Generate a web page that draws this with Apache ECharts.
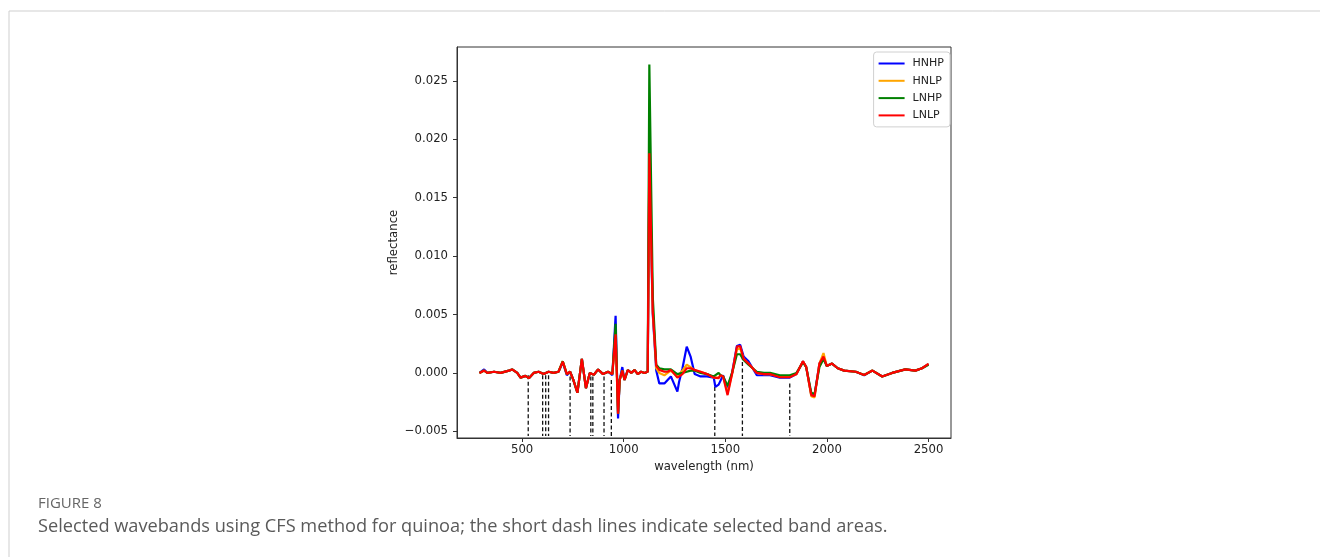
<!DOCTYPE html>
<html>
<head>
<meta charset="utf-8">
<script src="https://cdn.jsdelivr.net/npm/echarts@6/dist/echarts.min.js"></script>
<style>
html,body{margin:0;padding:0;background:#fff;}
#chart{width:1320px;height:557px;}
</style>
</head>
<body>
<div id="chart"></div>
<script>
// ---- data ----
const wavelengths = [290, 313, 329, 362, 394, 435, 451, 476, 492, 516, 533, 557, 581, 606, 630, 655, 679, 700, 720, 736, 752, 772, 794, 814, 833, 853, 874, 898, 923, 944, 960, 972, 980, 993, 1004, 1020, 1037, 1053, 1069, 1085, 1102, 1118, 1126, 1143, 1160, 1175, 1183, 1200, 1216, 1232, 1240, 1264, 1272, 1289, 1310, 1329, 1349, 1378, 1410, 1443, 1451, 1467, 1476, 1489, 1511, 1533, 1557, 1573, 1590, 1614, 1655, 1690, 1720, 1768, 1817, 1850, 1882, 1898, 1923, 1939, 1963, 1983, 1999, 2025, 2053, 2085, 2142, 2183, 2224, 2272, 2321, 2386, 2435, 2468, 2500];

const HNHP = [0, 0.0003, 0, 0.0001, 0, 0.0002, 0.0003, 0, -0.0004, -0.00025, -0.00045, 0, 0.0001, -0.0001, 0.0001, 0, 0.0001, 0.0009, -0.0002, 0.0001, -0.0006, -0.0017, 0.0012, -0.0013, 0, -0.00015, 0.0003, -0.0001, 0.0001, -0.0002, 0.0049, -0.0039, -0.0006, 0.0005, -0.0006, 0.00025, 0, 0.00025, -0.0001, 0.0001, 0, 0.0001, 0.0175, 0.0050, 0.0002, -0.0009, -0.0010, -0.0009, -0.0006, -0.0003, -0.0002, -0.0016, -0.0008, 0.0004, 0.00225, 0.0014, -0.0001, -0.0003, -0.0003, -0.0004, -0.0012, -0.0010, -0.0009, -0.0002, -0.00145, 0, 0.0023, 0.0024, 0.0014, 0.0010, -0.0002, -0.0002, -0.0002, -0.0004, -0.0004, -0.0001, 0.0010, 0.0005, -0.0019, -0.0019, 0.0008, 0.0014, 0.0006, 0.0008, 0.0004, 0.0002, 0.0001, -0.0002, 0.0002, -0.0003, 0, 0.0003, 0.0002, 0.0004, 0.00077];

const HNLP = [0, 0.0002, 0, 0.0001, 0, 0.0002, 0.0003, 0, -0.0004, -0.00025, -0.00045, 0, 0.0001, -0.0001, 0.0001, 0, 0.0001, 0.0010, -0.0001, 0.0001, -0.0006, -0.0017, 0.0012, -0.0013, 0, -0.00015, 0.0003, -0.0001, 0.0001, -0.0001, 0.0034, -0.0035, -0.0006, 0.0002, -0.0006, 0.00025, 0, 0.00025, -0.0001, 0.0001, 0, 0.0001, 0.0185, 0.0054, 0.0004, 0.0000, -0.0001, -0.0002, 0.0000, 0.0002, 0.0001, -0.0003, -0.0003, 0.0002, 0.0007, 0.0005, 0.0002, 0.0001, -0.0001, -0.0004, -0.0005, -0.0004, -0.0002, -0.0003, -0.0017, -0.0001, 0.0020, 0.0021, 0.0012, 0.0008, 0, -0.0001, -0.0001, -0.0003, -0.0003, -0.0001, 0.0010, 0.0005, -0.0020, -0.0021, 0.0008, 0.0017, 0.0006, 0.0008, 0.0004, 0.0002, 0.0001, -0.00017, 0.0002, -0.0003, 0, 0.0003, 0.0002, 0.0004, 0.00077];

const LNHP = [0, 0.0002, 0, 0.0001, 0, 0.0002, 0.0003, 0, -0.0004, -0.00025, -0.00045, 0, 0.0001, -0.0001, 0.0001, 0, 0.0001, 0.0010, -0.0001, 0.0001, -0.0006, -0.0017, 0.0012, -0.0013, 0, -0.00015, 0.0003, -0.0001, 0.0001, -0.0001, 0.0042, -0.0035, -0.0006, 0.0002, -0.0006, 0.00025, 0, 0.00025, -0.0001, 0.0001, 0, 0.0001, 0.0264, 0.0065, 0.0007, 0.0004, 0.0004, 0.0003, 0.0003, 0.0003, 0.0002, -0.0001, -0.0002, 0.0000, 0.0001, 0.0002, 0.0002, 0.0000, -0.0001, -0.0003, -0.0002, 0.0000, -0.0002, -0.0003, -0.0011, 0.0000, 0.0016, 0.0016, 0.0011, 0.0007, 0.0001, 0, 0, -0.0002, -0.0002, 0, 0.0009, 0.0005, -0.0017, -0.0018, 0.0005, 0.0012, 0.0006, 0.0008, 0.0004, 0.0002, 0.0001, -0.00017, 0.0002, -0.0003, 0, 0.0003, 0.0002, 0.0004, 0.0007];

const LNLP = [0, 0.0002, 0, 0.0001, 0, 0.0002, 0.0003, 0, -0.0004, -0.00025, -0.00045, 0, 0.0001, -0.0001, 0.0001, 0, 0.0001, 0.00097, -0.0001, 0.0001, -0.0006, -0.0017, 0.0012, -0.0013, 0, -0.00015, 0.0003, -0.0001, 0.0001, -0.0001, 0.0033, -0.0035, -0.0006, 0.0002, -0.0006, 0.00025, 0, 0.00025, -0.0001, 0.0001, 0, 0.0001, 0.0188, 0.0052, 0.0006, 0.00026, 0.0002, 0.0001, 0.0001, 0.00026, 0.0001, -0.0004, -0.00054, -0.0001, 0.0004, 0.0004, 0.00026, 0.0001, -0.0001, -0.0004, -0.0005, -0.00045, -0.0002, -0.0003, -0.0019, -0.0001, 0.00225, 0.0023, 0.0012, 0.0008, 0, -0.0001, -0.0001, -0.00037, -0.00037, -0.0001, 0.0010, 0.0005, -0.0019, -0.0020, 0.0008, 0.0014, 0.0006, 0.0008, 0.0004, 0.0002, 0.0001, -0.00017, 0.0002, -0.0003, 0, 0.0003, 0.0002, 0.0004, 0.00077];

// selected band positions (short dash lines): wavelength, top value
const bandWavelengths = [530, 601, 616, 630, 736, 838, 848, 903, 939, 1448, 1584, 1817];
const bandTops = [-0.0002, -0.0002, -0.0002, -0.0002, -0.0003, -0.0003, -0.0003, -0.0003, -0.0006, -0.0012, 0.0015, -0.0009];
const bandBottom = -0.0054;

const xTicks = [500, 1000, 1500, 2000, 2500];
const yTicks = [-0.005, 0.000, 0.005, 0.010, 0.015, 0.020, 0.025];

const seriesNames = ['HNHP', 'HNLP', 'LNHP', 'LNLP'];
const seriesValues = [HNHP, HNLP, LNHP, LNLP];
const seriesColors = ['#0000ff', '#ffa500', '#008000', '#ff0000'];

// ---- chart ----
const chart = echarts.init(document.getElementById('chart'), null, {renderer: 'canvas'});
const font = 'DejaVu Sans';

const series = [];
bandWavelengths.forEach((w, i) => {
  series.push({
    type: 'line', silent: true, symbol: 'none', z: 1,
    data: [[w, bandTops[i]], [w, bandBottom]],
    lineStyle: {color: '#111', width: 1.3, type: [4, 2.5]}
  });
});
seriesNames.forEach((n, k) => {
  series.push({
    name: n, type: 'line', symbol: 'none', z: 2 + k,
    data: wavelengths.map((w, i) => [w, seriesValues[k][i]]),
    lineStyle: {color: seriesColors[k], width: 2.2},
    itemStyle: {color: seriesColors[k]}
  });
});

const fmtY = v => {
  const s = Math.abs(v).toFixed(3);
  return v < -1e-9 ? '\u2212' + s : s;
};

chart.setOption({
  animation: false,
  backgroundColor: '#fff',
  grid: {left: 457, right: 369, top: 47, bottom: 119, show: true, borderColor: '#333', borderWidth: 1, backgroundColor: 'transparent'},
  legend: {
    data: seriesNames, orient: 'vertical', right: 370, top: 52,
    icon: 'rect', itemWidth: 26, itemHeight: 2, itemGap: 4.3,
    padding: [5, 6, 5, 5],
    backgroundColor: '#fff', borderColor: '#d0d0d0', borderWidth: 1, borderRadius: 3,
    textStyle: {fontFamily: font, fontSize: 11, color: '#222', lineHeight: 13, padding: [0, 0, 0, 3]}
  },
  xAxis: {
    type: 'value', min: 179.5, max: 2610.5,
    name: 'wavelength (nm)', nameLocation: 'middle', nameGap: 22,
    nameTextStyle: {fontFamily: font, fontSize: 11.7, color: '#222'},
    axisLine: {show: true, onZero: false, lineStyle: {color: '#333', width: 1}},
    axisTick: {show: true, length: 4, lineStyle: {color: '#333'}, customValues: xTicks},
    axisLabel: {fontFamily: font, fontSize: 11.7, color: '#222', margin: 6, customValues: xTicks, formatter: v => String(v)},
    splitLine: {show: false}
  },
  yAxis: {
    type: 'value', min: -0.00557, max: 0.0279,
    name: 'reflectance', nameLocation: 'middle', nameGap: 57, nameRotate: 90,
    nameTextStyle: {fontFamily: font, fontSize: 11.7, color: '#222'},
    axisLine: {show: true, onZero: false, lineStyle: {color: '#333', width: 1}},
    axisTick: {show: true, length: 4, lineStyle: {color: '#333'}, customValues: yTicks},
    axisLabel: {fontFamily: font, fontSize: 11.7, color: '#222', margin: 9, customValues: yTicks, formatter: fmtY},
    splitLine: {show: false}
  },
  graphic: [
    {type: 'line', shape: {x1: 9, y1: 11, x2: 1320, y2: 11}, style: {stroke: '#cfcfcf', lineWidth: 1}},
    {type: 'line', shape: {x1: 9, y1: 11, x2: 9, y2: 557}, style: {stroke: '#cfcfcf', lineWidth: 1}},
    {type: 'text', left: 38, top: 496, style: {text: 'FIGURE 8', fill: '#666', font: '15px "Open Sans"'}},
    {type: 'text', left: 38, top: 518, style: {text: 'Selected wavebands using CFS method for quinoa; the short dash lines indicate selected band areas.', fill: '#5a5a5a', font: '18.2px "Open Sans"'}}
  ],
  series: series
});
</script>
</body>
</html>
